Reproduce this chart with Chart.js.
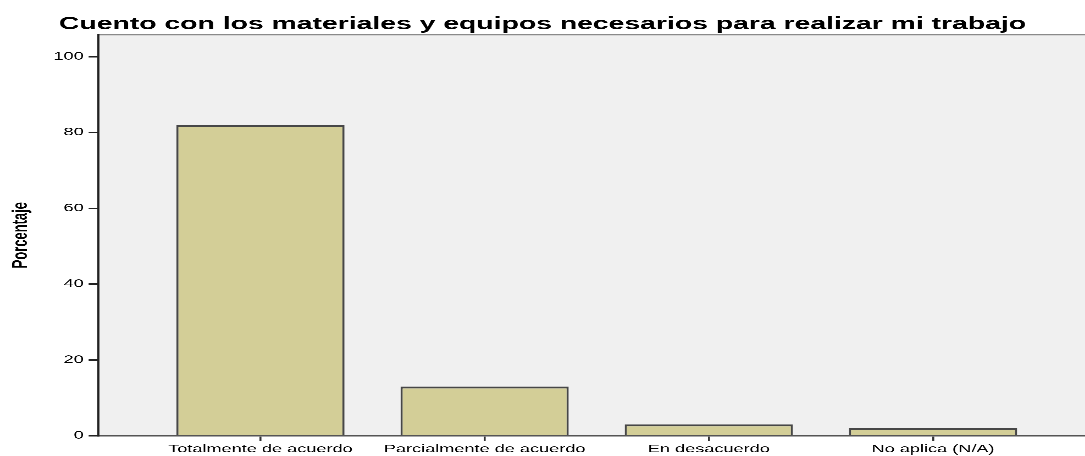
<!DOCTYPE html>
<html>
<head>
<meta charset="utf-8">
<script src="https://cdn.jsdelivr.net/npm/chart.js@4.4.1/dist/chart.umd.min.js"></script>
<style>
  html, body { margin: 0; padding: 0; background: #fff; overflow: hidden; }
  #wrap { width: 1085px; height: 456px; position: relative; overflow: hidden; }
  /* the reference image is stretched horizontally, so the chart is drawn narrow and widened */
  #chart { transform: scaleX(1.649); transform-origin: 0 0; }
</style>
</head>
<body>
<div id="wrap"><canvas id="chart" width="658" height="458"></canvas></div>
<script>
// data
const titleText = 'Cuento con los materiales y equipos necesarios para realizar mi trabajo';
const yAxisTitle = 'Porcentaje';
const categories = ['Totalmente de acuerdo', 'Parcialmente de acuerdo', 'En desacuerdo', 'No aplica (N/A)'];
const percentages = [82, 13, 3, 2];
const yTicks = [0, 20, 40, 60, 80, 100];

const baseFont = 'Liberation Sans, Arial, sans-serif';

// plot background + top frame line
const plotFrame = {
    id: 'plotFrame',
    beforeDraw(chart) {
        const { ctx, chartArea: a } = chart;
        ctx.save();
        ctx.fillStyle = '#f0f0f0';
        ctx.fillRect(a.left, a.top, a.right - a.left, a.bottom - a.top);
        ctx.strokeStyle = '#8a8a8a';
        ctx.lineWidth = 1.5;
        ctx.beginPath();
        ctx.moveTo(a.left, a.top);
        ctx.lineTo(a.right + 5, a.top);
        ctx.stroke();
        ctx.restore();
    }
};

const ctx = document.getElementById('chart').getContext('2d');
new Chart(ctx, {
    type: 'bar',
    data: {
        datasets: [{
            data: percentages.map((v, i) => ({ x: i, y: v })),
            backgroundColor: '#d3ce97',
            borderColor: '#474747',
            borderWidth: { left: 1.3, right: 1.3, top: 2, bottom: 0 },
            borderSkipped: false,
            barPercentage: 0.75,
            categoryPercentage: 1
        }]
    },
    options: {
        responsive: false,
        devicePixelRatio: 3,
        animation: false,
        layout: { padding: 0 },
        plugins: {
            legend: { display: false },
            tooltip: { enabled: false },
            title: {
                display: true,
                text: titleText,
                color: '#000',
                font: { family: baseFont, size: 17.2, weight: 'bold' },
                padding: { top: 14, bottom: 0 }
            }
        },
        scales: {
            x: {
                type: 'linear',
                offset: false,
                min: -0.722,
                max: 3.678,
                afterBuildTicks: (axis) => { axis.ticks = categories.map((c, i) => ({ value: i })); },
                ticks: {
                    callback: (v) => categories[v],
                    color: '#000',
                    font: { family: baseFont, size: 11 },
                    maxRotation: 0,
                    autoSkip: false,
                    padding: 2
                },
                grid: {
                    display: true,
                    offset: false,
                    drawOnChartArea: false,
                    drawTicks: true,
                    tickLength: 5,
                    color: '#333',
                    lineWidth: 1.2
                },
                border: { display: true, color: '#555', width: 1.5 }
            },
            y: {
                min: 0,
                max: 105.8,
                afterBuildTicks: (axis) => { axis.ticks = yTicks.map(v => ({ value: v })); },
                ticks: {
                    color: '#000',
                    font: { family: baseFont, size: 11 },
                    padding: 3
                },
                grid: {
                    display: true,
                    drawOnChartArea: false,
                    drawTicks: true,
                    tickLength: 6,
                    color: '#222',
                    lineWidth: 1.5
                },
                border: { display: true, color: '#222', width: 1.3 },
                title: {
                    display: true,
                    text: yAxisTitle,
                    color: '#000',
                    font: { family: baseFont, size: 13, weight: 'bold' },
                    padding: { top: 5, bottom: 8.8 }
                }
            }
        }
    },
    plugins: [plotFrame]
});
</script>
</body>
</html>
